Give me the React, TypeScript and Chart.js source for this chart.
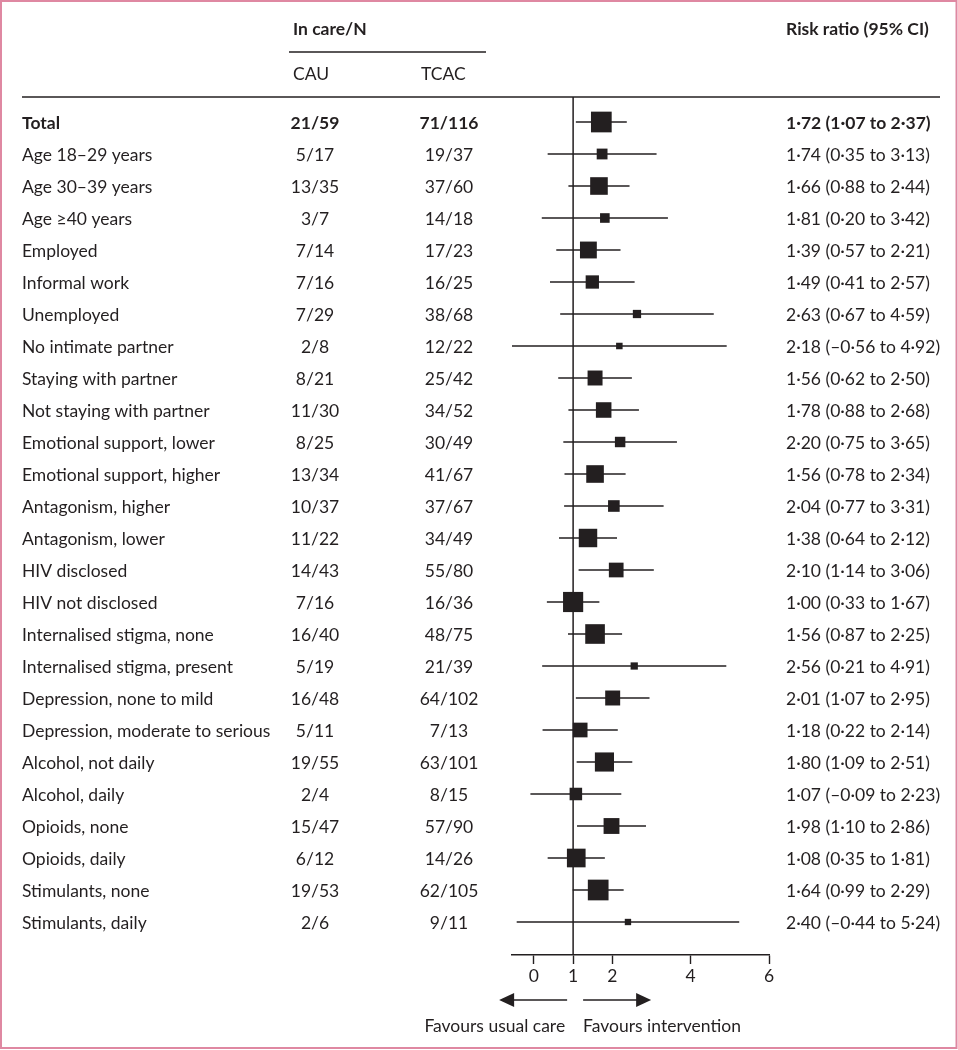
import React, { useEffect, useRef } from 'react';
import { Chart, registerables } from 'chart.js';

Chart.register(...registerables);

const subgroups = [
  'Total',
  'Age 18–29 years',
  'Age 30–39 years',
  'Age ≥40 years',
  'Employed',
  'Informal work',
  'Unemployed',
  'No intimate partner',
  'Staying with partner',
  'Not staying with partner',
  'Emotional support, lower',
  'Emotional support, higher',
  'Antagonism, higher',
  'Antagonism, lower',
  'HIV disclosed',
  'HIV not disclosed',
  'Internalised stigma, none',
  'Internalised stigma, present',
  'Depression, none to mild',
  'Depression, moderate to serious',
  'Alcohol, not daily',
  'Alcohol, daily',
  'Opioids, none',
  'Opioids, daily',
  'Stimulants, none',
  'Stimulants, daily',
];

const cauInCare = [
  '21/59', '5/17', '13/35', '3/7', '7/14', '7/16', '7/29', '2/8', '8/21', '11/30',
  '8/25', '13/34', '10/37', '11/22', '14/43', '7/16', '16/40', '5/19', '16/48', '5/11',
  '19/55', '2/4', '15/47', '6/12', '19/53', '2/6',
];

const tcacInCare = [
  '71/116', '19/37', '37/60', '14/18', '17/23', '16/25', '38/68', '12/22', '25/42', '34/52',
  '30/49', '41/67', '37/67', '34/49', '55/80', '16/36', '48/75', '21/39', '64/102', '7/13',
  '63/101', '8/15', '57/90', '14/26', '62/105', '9/11',
];

const riskRatio = [
  1.72, 1.74, 1.66, 1.81, 1.39, 1.49, 2.63, 2.18, 1.56, 1.78,
  2.2, 1.56, 2.04, 1.38, 2.1, 1.0, 1.56, 2.56, 2.01, 1.18,
  1.8, 1.07, 1.98, 1.08, 1.64, 2.4,
];

const ciLower = [
  1.07, 0.35, 0.88, 0.2, 0.57, 0.41, 0.67, -0.56, 0.62, 0.88,
  0.75, 0.78, 0.77, 0.64, 1.14, 0.33, 0.87, 0.21, 1.07, 0.22,
  1.09, -0.09, 1.1, 0.35, 0.99, -0.44,
];

const ciUpper = [
  2.37, 3.13, 2.44, 3.42, 2.21, 2.57, 4.59, 4.92, 2.5, 2.68,
  3.65, 2.34, 3.31, 2.12, 3.06, 1.67, 2.25, 4.91, 2.95, 2.14,
  2.51, 2.23, 2.86, 1.81, 2.29, 5.24,
];

const xTicks = [0, 1, 2, 4, 6];
const xMin = -0.56;
const xMax = 6;

const INK = '#231f20';
const PINK = '#df88a2';
const FONT = 'Lato, "Noto Sans", sans-serif';
const FS = 17.5;

const fmt = (v: number) => (v < 0 ? '–' : '') + Math.abs(v).toFixed(2).replace('.', '·');

export default function App() {
  const ref = useRef<HTMLCanvasElement | null>(null);

  useEffect(() => {
    document.body.style.margin = '0';
    const canvas = ref.current;
    if (!canvas) return;
    const rows = subgroups.length;
    const yMin = -0.78125;
    const yMax = rows + 0.03125;

    const tablePlugin = {
      id: 'forestTable',
      afterDraw(chart: any) {
        const ctx = chart.ctx as CanvasRenderingContext2D;
        const ys = chart.scales.y;
        const xs = chart.scales.x;
        const area = chart.chartArea;
        const line = (x1: number, y1: number, x2: number, y2: number) => {
          ctx.beginPath();
          ctx.moveTo(x1, y1);
          ctx.lineTo(x2, y2);
          ctx.stroke();
        };
        ctx.save();
        ctx.fillStyle = INK;
        ctx.strokeStyle = INK;
        ctx.textBaseline = 'alphabetic';

        // headers
        ctx.textAlign = 'left';
        ctx.font = `bold ${FS}px ${FONT}`;
        ctx.fillText('In care/N', 293, 35);
        ctx.fillText('Risk ratio (95% CI)', 786, 35);
        ctx.font = `${FS}px ${FONT}`;
        ctx.fillText('CAU', 293, 80);
        ctx.fillText('TCAC', 421, 80);
        ctx.lineWidth = 1.4;
        line(289, 52, 486, 52);
        ctx.lineWidth = 1.5;
        line(22, area.top, 940, area.top);

        // rows
        for (let i = 0; i < rows; i++) {
          const y = ys.getPixelForValue(i) + 7;
          ctx.font = `${i === 0 ? 'bold ' : ''}${FS}px ${FONT}`;
          ctx.textAlign = 'left';
          ctx.fillText(subgroups[i], 22, y);
          ctx.textAlign = 'center';
          ctx.fillText(cauInCare[i], 315, y);
          ctx.fillText(tcacInCare[i], 449, y);
          ctx.textAlign = 'left';
          ctx.fillText(`${fmt(riskRatio[i])} (${fmt(ciLower[i])} to ${fmt(ciUpper[i])})`, 786, y);
        }

        // direction arrows
        const x1 = xs.getPixelForValue(1);
        const ay = area.bottom + 45;
        ctx.lineWidth = 1.5;
        line(x1 - 6, ay, x1 - 66, ay);
        line(x1 + 10, ay, x1 + 66, ay);
        ctx.beginPath();
        ctx.moveTo(x1 - 74, ay);
        ctx.lineTo(x1 - 59, ay - 7);
        ctx.lineTo(x1 - 59, ay + 7);
        ctx.closePath();
        ctx.fill();
        ctx.beginPath();
        ctx.moveTo(x1 + 78, ay);
        ctx.lineTo(x1 + 63, ay - 7);
        ctx.lineTo(x1 + 63, ay + 7);
        ctx.closePath();
        ctx.fill();

        ctx.font = `${FS}px ${FONT}`;
        ctx.textAlign = 'right';
        ctx.fillText('Favours usual care', x1 - 8, ay + 32);
        ctx.textAlign = 'left';
        ctx.fillText('Favours intervention', x1 + 10, ay + 32);

        // frame
        ctx.strokeStyle = PINK;
        ctx.lineWidth = 2;
        ctx.strokeRect(1, 1, 955.5, 1047);
        ctx.restore();
      },
    };

    const ciDatasets = subgroups.map((_, i) => ({
      type: 'scatter' as const,
      label: subgroups[i],
      data: [
        { x: ciLower[i], y: i },
        { x: ciUpper[i], y: i },
      ],
      showLine: true,
      borderColor: INK,
      borderWidth: 1.4,
      pointRadius: 0,
      order: 2,
    }));

    const boxSide = (i: number) => 24.2 / (ciUpper[i] - ciLower[i]) + 2.1;

    const chart = new Chart(canvas, {
      type: 'scatter',
      data: {
        datasets: [
          {
            label: 'Risk ratio',
            data: riskRatio.map((v, i) => ({ x: v, y: i })),
            pointStyle: 'rect',
            pointRadius: riskRatio.map((_, i) => boxSide(i) / Math.SQRT2),
            pointBackgroundColor: INK,
            pointBorderWidth: 0,
            showLine: false,
            order: 0,
          },
          {
            label: 'No effect',
            data: [
              { x: 1, y: yMin },
              { x: 1, y: yMax },
            ],
            showLine: true,
            borderColor: INK,
            borderWidth: 1.5,
            pointRadius: 0,
            order: 1,
          },
          ...ciDatasets,
        ] as any,
      },
      options: {
        animation: false,
        responsive: false,
        maintainAspectRatio: false,
        layout: { padding: { left: 512, right: 189, top: 97, bottom: 0 } },
        plugins: { legend: { display: false }, tooltip: { enabled: false } },
        scales: {
          x: {
            type: 'linear',
            min: xMin,
            max: xMax,
            afterBuildTicks: (scale: any) => {
              scale.ticks = xTicks.map((v) => ({ value: v }));
            },
            afterFit: (scale: any) => {
              scale.height = 95;
            },
            grid: {
              drawOnChartArea: false,
              drawTicks: true,
              tickLength: 9,
              tickWidth: 1.4,
              tickColor: INK,
              color: INK,
            },
            border: { display: true, color: INK, width: 1.5 },
            ticks: {
              color: INK,
              font: { family: FONT, size: FS },
              padding: 2,
              maxRotation: 0,
              autoSkip: false,
            },
          },
          y: {
            type: 'linear',
            display: false,
            reverse: true,
            min: yMin,
            max: yMax,
          },
        },
      } as any,
      plugins: [tablePlugin],
    });

    return () => chart.destroy();
  }, []);

  return (
    <div style={{ width: 958, height: 1050, background: '#fff' }}>
      <canvas ref={ref} width={958} height={1050} style={{ display: 'block' }} />
    </div>
  );
}
